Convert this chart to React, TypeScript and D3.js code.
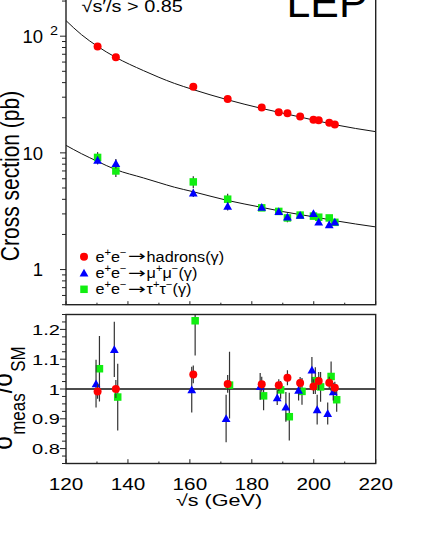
import { useEffect, useRef } from 'react';
import * as d3 from 'd3';

// nominal LEP centre-of-mass energies (GeV)
const energies = [130.2, 136.1, 161.1, 172.2, 183.2, 188.7, 191.5, 195.6, 199.9, 201.6, 205.0, 206.8];

// measured cross sections (pb)
const xsHadrons = [81.6, 66.1, 36.8, 29.0, 24.5, 22.3, 21.9, 20.5, 19.2, 19.05, 18.1, 17.5];
const xsMuMu = [8.65, 8.11, 4.54, 3.49, 3.42, 3.15, 2.83, 2.93, 3.03, 2.56, 2.43, 2.56];
const xsTauTau = [9.14, 7.0, 5.64, 4.01, 3.38, 3.15, 2.77, 2.93, 2.87, 2.81, 2.77, 2.54];

// ratio measurement / SM and errors
const ratioHadrons = [0.992, 1.0, 1.049, 1.017, 1.016, 1.013, 1.038, 1.02, 1.008, 1.027, 1.021, 1.004];
const errHadrons = [0.025, 0.03, 0.03, 0.03, 0.025, 0.02, 0.025, 0.02, 0.025, 0.03, 0.02, 0.02];
const ratioMuMu = [1.018, 1.133, 0.998, 0.901, 1.009, 0.971, 0.94, 0.996, 1.064, 0.931, 0.918, 0.991];
const errMuMu = [0.08, 0.093, 0.077, 0.08, 0.045, 0.025, 0.05, 0.035, 0.043, 0.05, 0.037, 0.03];
const ratioTauTau = [1.068, 0.973, 1.229, 1.013, 0.977, 0.997, 0.907, 0.992, 1.028, 1.007, 1.042, 0.964];
const errTauTau = [0.11, 0.112, 0.117, 0.112, 0.048, 0.03, 0.08, 0.045, 0.045, 0.05, 0.05, 0.04];

// SM predictions
const smEnergies = [120, 125, 130, 136, 145, 150, 155, 161, 172, 183, 190, 200, 207, 220];
const smHadrons = [136, 103, 82.4, 66, 50.7, 44.4, 39.4, 34.9, 28.6, 24.1, 21.9, 19.1, 17.4, 15.2];
const smPairs = [11.6, 9.84, 8.5, 7.2, 6.1, 5.56, 5.08, 4.65, 3.92, 3.42, 3.14, 2.83, 2.62, 2.32];

const xTicks = [120, 140, 160, 180, 200, 220];
const ratioTicks = [0.8, 0.9, 1, 1.1, 1.2];
const ratioTickLabels = ['0.8', '0.9', '1', '1.1', '1.2'];

const FONT = '"Liberation Sans", Arial, Helvetica, sans-serif';
const RED = '#ff0000';
const BLUE = '#0000ff';
const GREEN = '#11ee11';

export default function App() {
  const svgRef = useRef<SVGSVGElement>(null);
  const width = 429;
  const height = 533;

  useEffect(() => {
    const svg = d3.select(svgRef.current);
    svg.selectAll('*').remove();
    svg.attr('font-family', FONT);

    const left = 66;
    const right = 375.7;
    const topBottom = 304.7;
    const botTop = 314.5;
    const botBottom = 463.5;

    const x = d3.scaleLinear().domain([120, 220]).range([left, right]);
    const yTop = d3.scaleLog().domain([0.5, 300]).range([topBottom, -19.5]);
    const yBot = d3.scaleLinear().domain([0.75, 1.25]).range([botBottom, botTop]);

    const defs = svg.append('defs');
    defs.append('clipPath').attr('id', 'clipTop').append('rect')
      .attr('x', left).attr('y', -40).attr('width', right - left).attr('height', topBottom + 40);
    defs.append('clipPath').attr('id', 'clipBot').append('rect')
      .attr('x', left).attr('y', botTop).attr('width', right - left).attr('height', botBottom - botTop);

    const stext = (g: any, tx: number, ty: number, str: string, size: number, anchor: string, sx: number) =>
      g.append('text')
        .attr('transform', `translate(${tx},${ty}) scale(${sx},1)`)
        .attr('text-anchor', anchor)
        .attr('font-size', size)
        .attr('fill', '#000')
        .text(str);

    const marker = (g: any, kind: string, cx: number, cy: number, color: string) => {
      if (kind === 'circle') {
        g.append('circle').attr('cx', cx).attr('cy', cy).attr('r', 4).attr('fill', color);
      } else if (kind === 'square') {
        g.append('rect').attr('x', cx - 3.75).attr('y', cy - 3.75).attr('width', 7.5).attr('height', 7.5).attr('fill', color);
      } else {
        g.append('path')
          .attr('d', `M${cx},${cy - 4.2}L${cx + 4.4},${cy + 3.6}L${cx - 4.4},${cy + 3.6}Z`)
          .attr('fill', color);
      }
    };

    // ---------- top panel ----------
    const top = svg.append('g');
    const topPlot = top.append('g').attr('clip-path', 'url(#clipTop)');

    const curve = d3.line<number>()
      .x((_, i) => x(smEnergies[i]))
      .curve(d3.curveMonotoneX);

    topPlot.append('path')
      .datum(smHadrons)
      .attr('d', curve.y(d => yTop(d)) as any)
      .attr('fill', 'none').attr('stroke', '#111').attr('stroke-width', 1);
    topPlot.append('path')
      .datum(smPairs)
      .attr('d', curve.y(d => yTop(d)) as any)
      .attr('fill', 'none').attr('stroke', '#111').attr('stroke-width', 1);

    const topSeries = [
      { vals: xsTauTau, err: errTauTau, kind: 'square', color: GREEN },
      { vals: xsMuMu, err: errMuMu, kind: 'triangle', color: BLUE },
      { vals: xsHadrons, err: errHadrons, kind: 'circle', color: RED },
    ];
    topSeries.forEach(s => {
      s.vals.forEach((v, i) => {
        const cx = x(energies[i]);
        topPlot.append('line')
          .attr('x1', cx).attr('x2', cx)
          .attr('y1', yTop(v * (1 + s.err[i]))).attr('y2', yTop(v * (1 - s.err[i])))
          .attr('stroke', '#333').attr('stroke-width', 1.2);
        marker(topPlot, s.kind, cx, yTop(v), s.color);
      });
    });

    // frame
    top.append('rect')
      .attr('x', left).attr('y', -30).attr('width', right - left).attr('height', topBottom + 30)
      .attr('fill', 'none').attr('stroke', '#222').attr('stroke-width', 1.4);

    // left log ticks
    const logTicks: number[] = [];
    [0.1, 1, 10, 100].forEach(dec => {
      for (let k = 1; k <= 9; k++) {
        const v = dec * k;
        if (v >= 0.5 && v <= 300) logTicks.push(v);
      }
    });
    logTicks.forEach(v => {
      const major = Math.abs(Math.log10(v) - Math.round(Math.log10(v))) < 1e-6;
      top.append('line')
        .attr('x1', left - (major ? 6 : 4)).attr('x2', left)
        .attr('y1', yTop(v)).attr('y2', yTop(v))
        .attr('stroke', '#222').attr('stroke-width', 1);
    });
    stext(top, 43, yTop(1) + 6.7, '1', 18.5, 'end', 1);
    stext(top, 43, yTop(10) + 6.7, '10', 18.5, 'end', 1);
    stext(top, 43, yTop(100) + 6.7, '10', 18.5, 'end', 1);
    stext(top, 50, yTop(100) - 1.3, '2', 12, 'start', 1.2);

    // bottom ticks of top panel (inward)
    d3.range(120, 221, 10).forEach(v => {
      const major = v % 20 === 0;
      top.append('line')
        .attr('x1', x(v)).attr('x2', x(v))
        .attr('y1', topBottom).attr('y2', topBottom - (major ? 3.5 : 2))
        .attr('stroke', '#222').attr('stroke-width', 1);
    });

    // legend
    const legendRows = [
      { kind: 'circle', color: RED, parts: ['hadrons(γ)'] },
      { kind: 'triangle', color: BLUE, parts: ['μ', '+', 'μ', '−', '(γ)'] },
      { kind: 'square', color: GREEN, parts: ['τ', '+', 'τ', '−', '(γ)'] },
    ];
    const addSupText = (g: any, tx: number, ty: number, parts: string[]) => {
      const t = g.append('text')
        .attr('transform', `translate(${tx},${ty}) scale(1.12,1)`)
        .attr('font-size', 14.5).attr('fill', '#000');
      parts.forEach((p, k) => {
        if (k % 2 === 1) t.append('tspan').attr('font-size', 10).attr('dy', -6).text(p);
        else t.append('tspan').attr('dy', k === 0 ? 0 : 6).text(p);
      });
    };
    legendRows.forEach((r, i) => {
      const cy = 256.7 + i * 16.3;
      marker(top, r.kind, 84, cy, r.color);
      addSupText(top, 95.5, cy + 5, ['e', '+', 'e', '−']);
      top.append('text')
        .attr('transform', `translate(127.8,${cy + 4.5}) scale(1.48,1)`)
        .attr('font-family', '"DejaVu Sans", sans-serif')
        .attr('font-size', 14.5).attr('fill', '#000')
        .text('→');
      addSupText(top, 146.6, cy + 5, r.parts);
    });

    // labels
    stext(top, 81.5, 11.7, '√s′/s > 0.85', 17, 'start', 1.17);
    stext(top, 367.5, 17.3, 'LEP', 42, 'end', 1.02);
    svg.append('text')
      .attr('transform', 'translate(18.5,176) scale(1.2,1) rotate(-90)')
      .attr('text-anchor', 'middle').attr('font-size', 21).attr('fill', '#000')
      .text('Cross section (pb)');

    // ---------- bottom panel ----------
    const bot = svg.append('g');
    const botPlot = bot.append('g').attr('clip-path', 'url(#clipBot)');

    botPlot.append('line')
      .attr('x1', left).attr('x2', right)
      .attr('y1', yBot(1)).attr('y2', yBot(1))
      .attr('stroke', '#111').attr('stroke-width', 1.5);

    const botSeries = [
      { vals: ratioTauTau, err: errTauTau, kind: 'square', color: GREEN, shift: 0.6 },
      { vals: ratioMuMu, err: errMuMu, kind: 'triangle', color: BLUE, shift: -0.5 },
      { vals: ratioHadrons, err: errHadrons, kind: 'circle', color: RED, shift: 0 },
    ];
    botSeries.forEach(s => {
      s.vals.forEach((v, i) => {
        const cx = x(energies[i] + s.shift);
        botPlot.append('line')
          .attr('x1', cx).attr('x2', cx)
          .attr('y1', yBot(v + s.err[i])).attr('y2', yBot(v - s.err[i]))
          .attr('stroke', '#333').attr('stroke-width', 1.2);
        marker(botPlot, s.kind, cx, yBot(v), s.color);
      });
    });

    bot.append('rect')
      .attr('x', left).attr('y', botTop).attr('width', right - left).attr('height', botBottom - botTop)
      .attr('fill', 'none').attr('stroke', '#222').attr('stroke-width', 1.4);

    d3.range(0, 21).map(k => 0.75 + k * 0.025).forEach(v => {
      const major = Math.abs(v * 10 - Math.round(v * 10)) < 1e-6;
      bot.append('line')
        .attr('x1', left - (major ? 6 : 4)).attr('x2', left)
        .attr('y1', yBot(v)).attr('y2', yBot(v))
        .attr('stroke', '#222').attr('stroke-width', 1);
    });
    ratioTicks.forEach((v, i) => {
      stext(bot, 60, yBot(v) + 5.5, ratioTickLabels[i], 15.5, 'end', 1.3);
    });

    d3.range(120, 221, 10).forEach(v => {
      const major = v % 20 === 0;
      bot.append('line')
        .attr('x1', x(v)).attr('x2', x(v))
        .attr('y1', botBottom).attr('y2', botBottom - (major ? 4.3 : 2))
        .attr('stroke', '#222').attr('stroke-width', 1);
    });
    xTicks.forEach(v => {
      stext(bot, x(v), 489.5, String(v), 17, 'middle', 1.22);
    });

    stext(bot, 219, 506, '√s (GeV)', 16, 'middle', 1.35);

    const yl = svg.append('text')
      .attr('transform', 'translate(12,398) scale(1.2,1) rotate(-90)')
      .attr('text-anchor', 'middle').attr('font-size', 24).attr('fill', '#000');
    yl.append('tspan').text('σ');
    yl.append('tspan').attr('font-size', 17).attr('dy', 11).text('meas');
    yl.append('tspan').attr('dy', -11).text('/σ');
    yl.append('tspan').attr('font-size', 17).attr('dy', 11).text('SM');
  }, []);

  return (
    <svg
      ref={svgRef}
      width={width}
      height={height}
      style={{ position: 'absolute', left: 0, top: 0, background: '#fff', display: 'block' }}
    ></svg>
  );
}
